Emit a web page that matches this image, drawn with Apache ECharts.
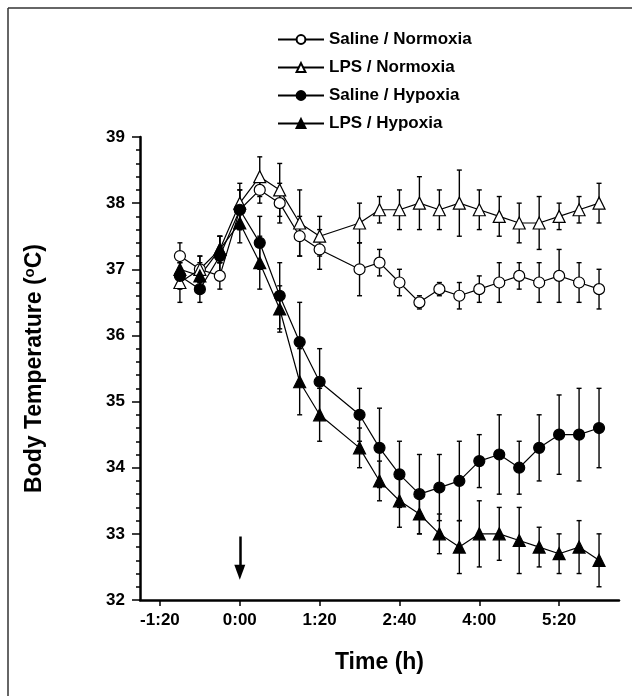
<!DOCTYPE html>
<html>
<head>
<meta charset="utf-8">
<script src="https://cdn.jsdelivr.net/npm/echarts@6/dist/echarts.min.js"></script>
<style>
  html, body { margin: 0; padding: 0; background: #fff; }
  #main { width: 632px; height: 696px; }
</style>
</head>
<body>
<div id="main"></div>
<script>
// time after injection, minutes
var times = [-60, -40, -20, 0, 20, 40, 60, 80, 120, 140, 160, 180, 200, 220, 240, 260, 280, 300, 320, 340, 360];
var xTicks = [-80, 0, 80, 160, 240, 320];

var salNorm    = [37.2, 37.0, 36.9, 37.9, 38.2, 38.0, 37.5, 37.3, 37.0, 37.1, 36.8, 36.5, 36.7, 36.6, 36.7, 36.8, 36.9, 36.8, 36.9, 36.8, 36.7];
var salNormErr = [0.2, 0.2, 0.2, 0.3, 0.2, 0.3, 0.3, 0.3, 0.4, 0.2, 0.2, 0.1, 0.1, 0.2, 0.2, 0.3, 0.2, 0.3, 0.4, 0.3, 0.3];

var lpsNorm    = [36.8, 37.0, 37.3, 38.0, 38.4, 38.2, 37.7, 37.5, 37.7, 37.9, 37.9, 38.0, 37.9, 38.0, 37.9, 37.8, 37.7, 37.7, 37.8, 37.9, 38.0];
var lpsNormErr = [0.3, 0.2, 0.2, 0.3, 0.3, 0.4, 0.5, 0.3, 0.3, 0.2, 0.3, 0.4, 0.3, 0.5, 0.3, 0.3, 0.3, 0.4, 0.2, 0.2, 0.3];

var salHyp    = [36.9, 36.7, 37.2, 37.9, 37.4, 36.6, 35.9, 35.3, 34.8, 34.3, 33.9, 33.6, 33.7, 33.8, 34.1, 34.2, 34.0, 34.3, 34.5, 34.5, 34.6];
var salHypErr = [0.2, 0.2, 0.3, 0.3, 0.4, 0.5, 0.6, 0.5, 0.4, 0.6, 0.5, 0.6, 0.5, 0.6, 0.4, 0.6, 0.4, 0.5, 0.6, 0.7, 0.6];

var lpsHyp    = [37.0, 36.9, 37.3, 37.7, 37.1, 36.4, 35.3, 34.8, 34.3, 33.8, 33.5, 33.3, 33.0, 32.8, 33.0, 33.0, 32.9, 32.8, 32.7, 32.8, 32.6];
var lpsHypErr = [0.2, 0.2, 0.2, 0.3, 0.4, 0.35, 0.5, 0.4, 0.3, 0.3, 0.4, 0.3, 0.3, 0.4, 0.5, 0.4, 0.5, 0.3, 0.3, 0.4, 0.4];

var FONT = 'Liberation Sans, Arial, sans-serif';

function pairs(vals) {
    var out = [];
    for (var i = 0; i < times.length; i++) out.push([times[i], vals[i]]);
    return out;
}
function errData(vals, errs) {
    var out = [];
    for (var i = 0; i < times.length; i++) out.push([times[i], vals[i], errs[i]]);
    return out;
}
function fmtTime(v) {
    var s = v < 0 ? '-' : '';
    var a = Math.abs(v);
    var m = a % 60;
    return s + Math.floor(a / 60) + ':' + (m < 10 ? '0' : '') + m;
}

// vertical error bar with small caps
function renderErr(params, api) {
    var x = api.value(0), y = api.value(1), e = api.value(2);
    var top = api.coord([x, y + e]);
    var bot = api.coord([x, y - e]);
    var w = 2.5;
    var st = { stroke: '#000', lineWidth: 1.4 };
    return {
        type: 'group',
        children: [
            { type: 'line', shape: { x1: top[0], y1: top[1], x2: bot[0], y2: bot[1] }, style: st },
            { type: 'line', shape: { x1: top[0] - w, y1: top[1], x2: top[0] + w, y2: top[1] }, style: st },
            { type: 'line', shape: { x1: bot[0] - w, y1: bot[1], x2: bot[0] + w, y2: bot[1] }, style: st }
        ]
    };
}

function errSeries(name, vals, errs) {
    return {
        name: name,
        type: 'custom',
        renderItem: renderErr,
        data: errData(vals, errs),
        z: 1,
        silent: true
    };
}

function lineSeries(name, vals, symbol, filled) {
    return {
        name: name,
        type: 'line',
        data: pairs(vals),
        symbol: symbol,
        symbolSize: symbol === 'triangle' ? 12 : 11,
        showAllSymbol: true,
        lineStyle: { color: '#000', width: 1.2 },
        itemStyle: { color: filled ? '#000' : '#fff', borderColor: '#000', borderWidth: 1.2 },
        z: 3,
        animation: false
    };
}

var arrowSeries = lineSeries('Saline / Hypoxia', salHyp, 'circle', true);
arrowSeries.markLine = {
    silent: true,
    symbol: ['none', 'triangle'],
    symbolSize: [11, 15],
    label: { show: false },
    lineStyle: { color: '#000', width: 2.5, type: 'solid' },
    data: [[{ coord: [0, 32.96] }, { coord: [0, 32.42] }]]
};

var chart = echarts.init(document.getElementById('main'));
var option = {
    animation: false,
    backgroundColor: '#fff',
    textStyle: { fontFamily: FONT },
    grid: { left: 140, top: 137, right: 13, bottom: 96 },
    legend: {
        data: ['Saline / Normoxia', 'LPS / Normoxia', 'Saline / Hypoxia', 'LPS / Hypoxia'],
        orient: 'vertical',
        left: 277,
        top: 31,
        padding: 0,
        itemWidth: 46,
        itemHeight: 11,
        itemGap: 11,
        textStyle: { fontFamily: FONT, fontWeight: 'bold', fontSize: 17, color: '#000' }
    },
    xAxis: {
        type: 'value',
        min: -100,
        max: 380,
        name: 'Time (h)',
        nameLocation: 'middle',
        nameGap: 51,
        nameTextStyle: { fontFamily: FONT, fontWeight: 'bold', fontSize: 23, color: '#000' },
        axisLine: { onZero: false, lineStyle: { color: '#000', width: 2.5 } },
        axisTick: { show: true, length: 6, lineStyle: { color: '#000', width: 1.5 }, customValues: xTicks },
        axisLabel: {
            customValues: xTicks,
            formatter: fmtTime,
            margin: 12,
            fontFamily: FONT, fontWeight: 'bold', fontSize: 17, color: '#000'
        },
        splitLine: { show: false }
    },
    yAxis: {
        type: 'value',
        min: 32,
        max: 39,
        interval: 1,
        name: 'Body Temperature ({sup|o}C)',
        nameLocation: 'middle',
        nameGap: 93,
        nameTextStyle: {
            fontFamily: FONT, fontWeight: 'bold', fontSize: 23, color: '#000',
            rich: { sup: { fontFamily: FONT, fontWeight: 'bold', fontSize: 15, color: '#000', verticalAlign: 'top', padding: [0, 0, 10, 0] } }
        },
        axisLine: { show: true, onZero: false, lineStyle: { color: '#000', width: 2.5 } },
        axisTick: { show: true, length: 8, lineStyle: { color: '#000', width: 1.5 } },
        minorTick: { show: true, splitNumber: 5, length: 4, lineStyle: { color: '#000', width: 1.5 } },
        axisLabel: { margin: 15, fontFamily: FONT, fontWeight: 'bold', fontSize: 17, color: '#000' },
        splitLine: { show: false }
    },
    graphic: [
        { type: 'line', shape: { x1: 8, y1: 8, x2: 632, y2: 8 }, style: { stroke: '#333', lineWidth: 1.5 } },
        { type: 'line', shape: { x1: 8, y1: 8, x2: 8, y2: 696 }, style: { stroke: '#333', lineWidth: 1.5 } }
    ],
    series: [
        errSeries('err1', salNorm, salNormErr),
        errSeries('err2', lpsNorm, lpsNormErr),
        errSeries('err3', salHyp, salHypErr),
        errSeries('err4', lpsHyp, lpsHypErr),
        lineSeries('Saline / Normoxia', salNorm, 'circle', false),
        lineSeries('LPS / Normoxia', lpsNorm, 'triangle', false),
        arrowSeries,
        lineSeries('LPS / Hypoxia', lpsHyp, 'triangle', true)
    ]
};
chart.setOption(option);
window.addEventListener('resize', function () {
    chart.resize();
});
</script>
</body>
</html>
